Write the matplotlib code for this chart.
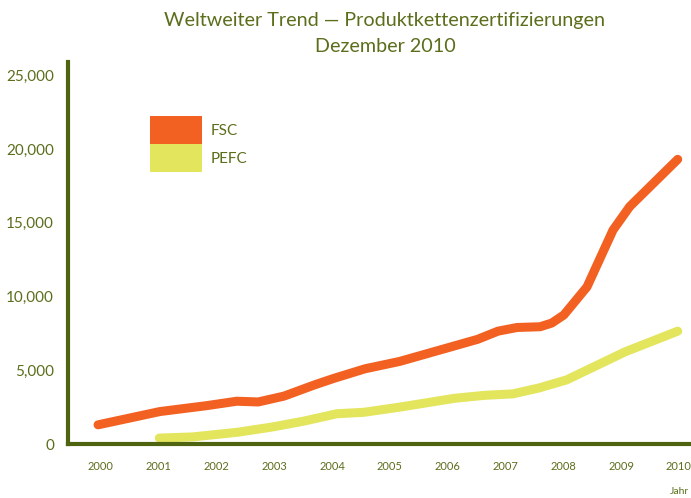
import matplotlib.pyplot as plt
from matplotlib.patches import Patch
from matplotlib.ticker import FuncFormatter

# data (x in fractional years)
fsc_year = [1999.95, 2001.02, 2001.83, 2002.35, 2002.72, 2003.17, 2003.69, 2004.03, 2004.57, 2005.17,
            2006.52, 2006.87, 2007.20, 2007.60, 2007.80, 2008.01, 2008.41, 2008.86, 2009.15, 2009.98]
fsc_count = [1300, 2200, 2600, 2900, 2850, 3250, 4000, 4450, 5100, 5600,
             7100, 7650, 7900, 7950, 8200, 8750, 10650, 14500, 16100, 19300]

pefc_year = [2001.01, 2001.59, 2002.37, 2002.96, 2003.51, 2004.08, 2004.55, 2005.17,
             2006.12, 2006.64, 2007.13, 2007.58, 2008.06, 2009.07, 2009.98]
pefc_count = [400, 480, 800, 1150, 1550, 2050, 2150, 2500,
              3100, 3300, 3400, 3800, 4350, 6250, 7650]

years = list(range(2000, 2011))
y_ticks = [0, 5000, 10000, 15000, 20000, 25000]

ORANGE = '#f26122'
YELLOW = '#e3e55c'
OLIVE = '#4f6410'
TEXT = '#5b6e1c'

plt.rcParams['font.family'] = ['Lato', 'DejaVu Sans']

fig = plt.figure(figsize=(6.91, 4.98), dpi=100)
ax = fig.add_axes([68/691, 54/498, 623/691, 382/498])

ax.plot(fsc_year, fsc_count, color=ORANGE, lw=6.5, solid_capstyle='round', solid_joinstyle='round')
ax.plot(pefc_year, pefc_count, color=YELLOW, lw=6.5, solid_capstyle='round', solid_joinstyle='round')

ax.set_xlim(1999.43, 2010.21)
ax.set_ylim(0, 25900)
ax.set_xticks(years)
ax.set_yticks(y_ticks)
ax.yaxis.set_major_formatter(FuncFormatter(lambda v, p: f'{int(v):,}'))
ax.tick_params(axis='both', length=0, colors=TEXT)
ax.tick_params(axis='y', labelsize=11, pad=10)
ax.tick_params(axis='x', labelsize=8, pad=12)

for side in ['top', 'right']:
	ax.spines[side].set_visible(False)
for side in ['left', 'bottom']:
	ax.spines[side].set_color(OLIVE)
	ax.spines[side].set_linewidth(3)
	ax.spines[side].set_zorder(5)

fig.text(384/691, 1 - 20/498, 'Weltweiter Trend \u2014 Produktkettenzertifizierungen',
	ha='center', va='center', fontsize=14.2, color=TEXT)
fig.text(385/691, 1 - 46/498, 'Dezember 2010', ha='center', va='center', fontsize=14.2, color=TEXT)
fig.text(680/691, 1 - 491/498, 'Jahr', ha='center', va='center', fontsize=7.5, color=TEXT)

handles = [Patch(facecolor=ORANGE, edgecolor='none', label='FSC'),
	Patch(facecolor=YELLOW, edgecolor='none', label='PEFC')]
leg = ax.legend(handles=handles, loc='upper left', bbox_to_anchor=(150/691, 1 - 116/498),
	bbox_transform=fig.transFigure, frameon=False, fontsize=11, borderpad=0, borderaxespad=0,
	handlelength=3.4, handleheight=2.44, labelspacing=0, handletextpad=0.6)
for t in leg.get_texts():
	t.set_color(TEXT)

fig.savefig('out.png', dpi=100)
